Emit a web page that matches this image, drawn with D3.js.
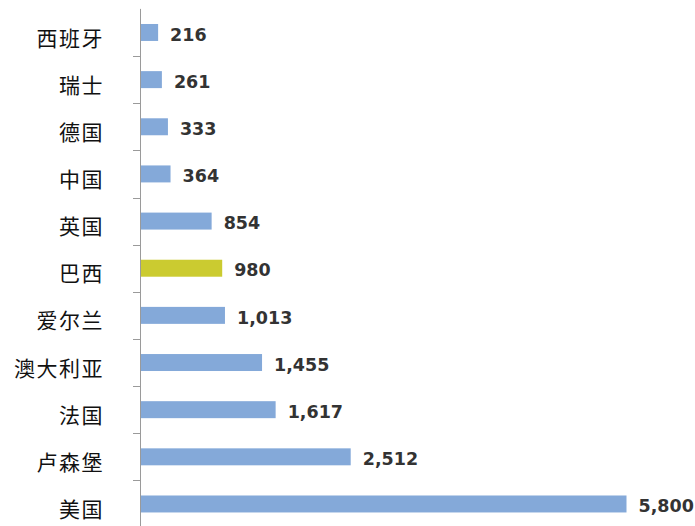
<!DOCTYPE html>
<html>
<head>
<meta charset="utf-8">
<script src="https://cdn.jsdelivr.net/npm/d3@7"></script>
<style>
  html, body { margin: 0; padding: 0; background: #fff; }
  svg { display: block; }
</style>
</head>
<body>
<svg id="chart" width="695" height="526"></svg>
<script>
// Countries (top to bottom) and their values
const countries = ["西班牙", "瑞士", "德国", "中国", "英国", "巴西", "爱尔兰", "澳大利亚", "法国", "卢森堡", "美国"];
const values = [216, 261, 333, 364, 854, 980, 1013, 1455, 1617, 2512, 5800];
const highlighted = ["巴西"];

const svg = d3.select("#chart");
const axisX = 140;

const y = d3.scaleBand()
  .domain(countries)
  .range([8.9, 8.9 + 11 * 47.15])
  .paddingInner(0.64)
  .paddingOuter(0.32);

const x = d3.scaleLinear()
  .domain([0, d3.max(values)])
  .range([axisX, 626.5]);

const data = countries.map((c, i) => ({ country: c, value: values[i] }));

// Bars
svg.append("g")
  .selectAll("rect")
  .data(data)
  .join("rect")
  .attr("x", x(0))
  .attr("y", d => y(d.country))
  .attr("width", d => x(d.value) - x(0))
  .attr("height", y.bandwidth())
  .attr("fill", d => highlighted.includes(d.country) ? "#cbcb30" : "#84a9d9");

// Value labels
const fmt = d3.format(",");
svg.append("g")
  .selectAll("text")
  .data(data)
  .join("text")
  .attr("x", d => x(d.value) + 12)
  .attr("y", d => y(d.country) + y.bandwidth() / 2 + 2)
  .attr("dy", "0.35em")
  .attr("font-family", "'DejaVu Sans', sans-serif")
  .attr("font-weight", "bold")
  .attr("font-size", "17.5px")
  .attr("fill", "#333")
  .text(d => fmt(d.value));

// Category axis with labels
const yAxis = d3.axisLeft(y).tickSize(0).tickPadding(36);
const gAxis = svg.append("g")
  .attr("transform", `translate(${axisX},0)`)
  .call(yAxis);
gAxis.select(".domain").remove();
gAxis.selectAll("text")
  .attr("font-family", "'Noto Sans CJK SC', sans-serif")
  .attr("font-size", "21px")
  .attr("letter-spacing", "1.5px")
  .attr("fill", "#111")
  .attr("dy", "0.62em");

// Axis line and tick marks between categories
const [r0, r1] = y.range();
svg.append("line")
  .attr("x1", axisX + 0.5).attr("x2", axisX + 0.5)
  .attr("y1", r0).attr("y2", r1)
  .attr("stroke", "#9a9a9a").attr("stroke-width", 1);

const boundaries = d3.range(1, countries.length + 1).map(i => r0 + i * y.step());
svg.append("g")
  .selectAll("line")
  .data(boundaries)
  .join("line")
  .attr("x1", axisX - 7).attr("x2", axisX)
  .attr("y1", d => Math.round(d) + 0.5).attr("y2", d => Math.round(d) + 0.5)
  .attr("stroke", "#9a9a9a").attr("stroke-width", 1);
</script>
</body>
</html>
